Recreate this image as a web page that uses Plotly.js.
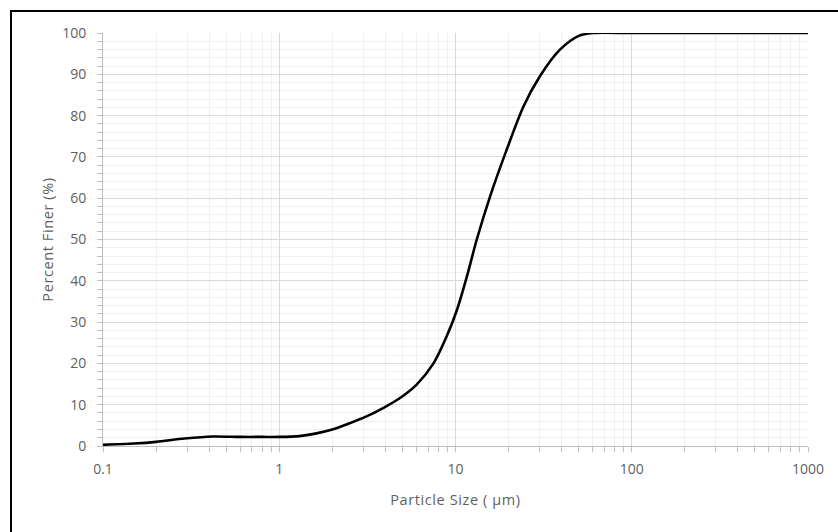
<!DOCTYPE html>
<html>
<head>
<meta charset="utf-8">
<script src="https://cdn.plot.ly/plotly-3.0.1.min.js"></script>
<style>
html,body{margin:0;padding:0;background:#fff;overflow:hidden;}
#wrap{position:relative;width:838px;height:532px;}
#chart{position:absolute;left:0;top:0;width:838px;height:532px;}
#frame{position:absolute;left:10px;top:10px;width:900px;height:600px;border:2px solid #000;pointer-events:none;}
.g-xtitle text, .g-ytitle text{letter-spacing:0.6px;}
</style>
</head>
<body>
<div id="wrap"><div id="chart"></div><div id="frame"></div></div>
<script>
// Particle size (µm)
const particleSize = [0.1, 0.15, 0.2, 0.29, 0.42, 0.6, 0.8, 1.0, 1.3, 1.6, 2.0, 2.5, 3.1, 4.0, 4.8, 6.0, 7.5, 8.9, 10.2, 11.6, 13.2, 15.7, 19.5, 24.3, 30, 39, 50, 60, 100, 200, 500, 1000];
// Percent finer (%)
const percentFiner = [0.3, 0.6, 1.0, 1.8, 2.3, 2.2, 2.2, 2.2, 2.4, 3.0, 4.0, 5.5, 7.1, 9.5, 11.5, 14.8, 20, 26.5, 33, 41, 50, 60.4, 71.7, 82.2, 89.4, 95.9, 99.3, 100, 100, 100, 100, 100];
const xTickVals = [0.1, 1, 10, 100, 1000];
const xTickText = ["0.1", "1", "10", "100", "1000"];
const decades = [0.1, 1, 10, 100];
const minorMultipliers = [2, 3, 4, 5, 6, 7, 8, 9];

const xMinorVals = [];
decades.forEach(d => minorMultipliers.forEach(m => xMinorVals.push(+(d * m).toPrecision(3))));

const fontFam = "'Open Sans', Lato, 'Liberation Sans', sans-serif";
const txtColor = '#5f5f5f';

Plotly.newPlot('chart', [{
  x: particleSize,
  y: percentFiner,
  type: 'scatter',
  mode: 'lines',
  line: {color: '#000', width: 2.6, shape: 'spline', smoothing: 0.8},
  hoverinfo: 'skip'
}], {
  width: 838, height: 532,
  margin: {l: 103, r: 30, t: 33, b: 86},
  paper_bgcolor: '#fff', plot_bgcolor: '#fff',
  showlegend: false,
  font: {family: fontFam, size: 14, color: txtColor},
  xaxis: {
    type: 'log', range: [-1, 3],
    tickmode: 'array', tickvals: xTickVals, ticktext: xTickText,
    ticks: 'outside', ticklen: 5, tickcolor: '#bfbfbf',
    ticklabelstandoff: 5,
    showline: true, linecolor: '#bfbfbf', linewidth: 1,
    showgrid: true, gridcolor: '#d9d9d9', gridwidth: 1,
    zeroline: false,
    minor: {tickmode: 'array', tickvals: xMinorVals, ticks: 'outside', ticklen: 5, tickcolor: '#bfbfbf', showgrid: true, gridcolor: '#f0f0f0', gridwidth: 1},
    tickfont: {size: 14, color: txtColor},
    title: {text: 'Particle Size ( µm)', font: {size: 14.5, color: txtColor}, standoff: 18}
  },
  yaxis: {
    range: [0, 100], dtick: 10,
    ticks: 'outside', ticklen: 5, tickcolor: '#bfbfbf',
    ticklabelstandoff: 8,
    showline: true, linecolor: '#bfbfbf', linewidth: 1,
    showgrid: true, gridcolor: '#d9d9d9', gridwidth: 1,
    zeroline: false,
    minor: {dtick: 2, ticks: 'outside', ticklen: 5, tickcolor: '#bfbfbf', showgrid: true, gridcolor: '#f0f0f0', gridwidth: 1},
    tickfont: {size: 14, color: txtColor},
    title: {text: 'Percent Finer (%)', font: {size: 14.5, color: txtColor}, standoff: 5}
  }
}, {displayModeBar: false, staticPlot: true});
</script>
</body>
</html>
